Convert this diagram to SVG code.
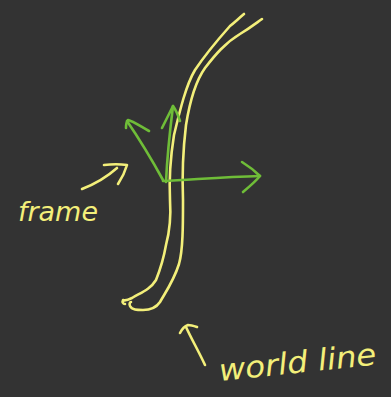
<svg xmlns="http://www.w3.org/2000/svg" width="391" height="397" viewBox="0 0 391 397">
<style>
.y{fill:none;stroke:#f3ef7a;stroke-width:2.6;stroke-linecap:round;stroke-linejoin:round}
.g{fill:none;stroke:#6fbd38;stroke-width:2.6;stroke-linecap:round;stroke-linejoin:round}
.t{fill:#f3ef7a;font-family:"DejaVu Sans",sans-serif;font-style:italic}
</style>
<rect width="391" height="397" fill="#333333"/>
<g id="worldline">
<path class="y" d="M244,14 C238,19 235,22 230,26 C222,35 205,55 195,70 C186,85 180,110 174,135 C170,160 169,180 170,200 C171,215 170,230 166,245 C163,262 160,270 156,280 C150,290 140,293 132,298 C128,300 125,301 123,300 C122,302 123,304 125,304"/>
<path class="y" d="M262,19 C255,24 250,28 240,34 C225,43 215,55 205,68 C195,82 190,100 186,125 C183,150 182,175 183,200 C183,225 183,250 179,264 C174,280 167,290 160,302 C156,308 150,310 143,310 C137,310 132,310 130,306 C129,304 130,302 131,302"/>
</g>
<g id="frame">
<path class="g" d="M163,181 C190,180 220,177 260,176"/>
<path class="g" d="M242,162 C250,167 255,171 260,176 C255,182 249,187 243,192"/>
<path class="g" d="M166,182 C167,160 170,130 173,106"/>
<path class="g" d="M162,128 C166,120 170,112 173,106 C176,110 178,115 180,121"/>
<path class="g" d="M163,180 C152,160 140,140 127,121"/>
<path class="g" d="M126,128 C126,124 127,121 128,120 C133,121 140,126 149,131"/>
</g>
<g id="connectors">
<path class="y" d="M82,189 C95,184 108,176 117,168"/>
<path class="y" d="M104,165 C112,164 120,164 127,165 C125,172 122,178 118,184"/>
<path class="y" d="M205,365 C198,350 192,340 186,327"/>
<path class="y" d="M180,333 C182,329 185,326 188,325 C191,325 194,326 197,327"/>
</g>
<g id="label-frame">
<text class="t" x="18" y="221" font-size="26" textLength="80" lengthAdjust="spacingAndGlyphs">frame</text>
</g>
<g id="label-worldline">
<text class="t" x="220" y="381" font-size="30" textLength="158" lengthAdjust="spacingAndGlyphs" transform="rotate(-6 220 381)">world line</text>
</g>
</svg>
